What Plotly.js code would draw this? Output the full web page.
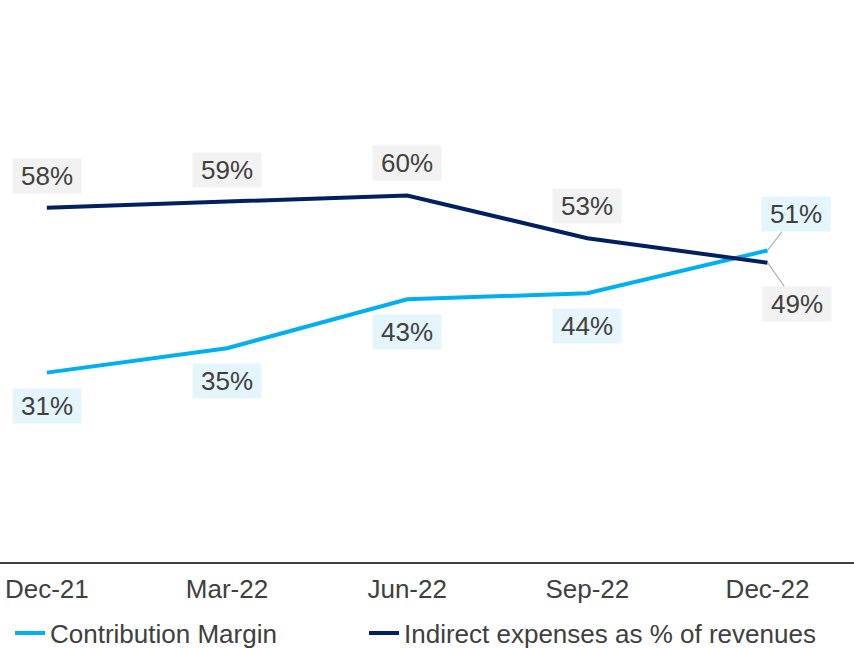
<!DOCTYPE html>
<html>
<head>
<meta charset="utf-8">
<script src="https://cdn.plot.ly/plotly-3.0.1.min.js"></script>
<style>
  body { margin: 0; background: #fff; }
  #graph { width: 854px; height: 648px; }
</style>
</head>
<body>
<div id="graph"></div>
<script>
var quarters = ["Dec-21", "Mar-22", "Jun-22", "Sep-22", "Dec-22"];
var contributionMargin = [31, 35, 43, 44, 51];
var indirectExpenses = [58, 59, 60, 53, 49];

var blue = "#00b0f0";
var navy = "#002060";
var textColor = "#404040";
var font = "Liberation Sans, Arial, sans-serif";

var trace1 = {
  x: quarters,
  y: contributionMargin,
  type: "scatter",
  mode: "lines",
  name: "Contribution Margin",
  legend: "legend",
  line: { color: blue, width: 4 }
};

var trace2 = {
  x: quarters,
  y: indirectExpenses,
  type: "scatter",
  mode: "lines",
  name: "Indirect expenses as % of revenues",
  legend: "legend2",
  line: { color: navy, width: 4 }
};

// data labels: navy above, blue below, last point gets a leader line
var annotations = [];
for (var i = 0; i < quarters.length; i++) {
  var last = (i == quarters.length - 1);
  annotations.push({
    x: quarters[i], y: indirectExpenses[i],
    text: indirectExpenses[i] + "%",
    showarrow: last, ax: 29, ay: 41, arrowhead: 0, arrowwidth: 1.2, arrowcolor: "#b0b0b0",
    yshift: last ? 0 : 32,
    width: 64, bgcolor: "#f2f2f2", borderpad: 2,
    font: { family: font, size: 26, color: textColor }
  });
  annotations.push({
    x: quarters[i], y: contributionMargin[i],
    text: contributionMargin[i] + "%",
    showarrow: last, ax: 28, ay: -36, arrowhead: 0, arrowwidth: 1.2, arrowcolor: "#b0b0b0",
    yshift: last ? 0 : -33,
    width: 64, bgcolor: "#e5f5fc", borderpad: 2,
    font: { family: font, size: 26, color: textColor }
  });
}

var legendFont = { family: font, size: 26, color: textColor };

var layout = {
  width: 854,
  height: 648,
  margin: { l: 0, r: 0, t: 0, b: 86 },
  paper_bgcolor: "#ffffff",
  plot_bgcolor: "#ffffff",
  font: { family: font, color: textColor },
  showlegend: true,
  legend: {
    orientation: "h",
    xref: "container", yref: "container",
    x: 10 / 854, xanchor: "left",
    y: 1 - 633 / 648, yanchor: "middle",
    font: legendFont
  },
  legend2: {
    orientation: "h",
    xref: "container", yref: "container",
    x: 364 / 854, xanchor: "left",
    y: 1 - 633 / 648, yanchor: "middle",
    font: legendFont
  },
  xaxis: {
    type: "category",
    range: [-0.26, 4.48],
    automargin: false,
    showgrid: false,
    zeroline: false,
    showline: true,
    linecolor: "#404040",
    linewidth: 2,
    ticks: "",
    ticklabelstandoff: 3,
    tickfont: { family: font, size: 26, color: textColor },
    fixedrange: true
  },
  yaxis: {
    range: [0, 92],
    visible: false,
    showgrid: false,
    zeroline: false,
    fixedrange: true
  },
  annotations: annotations
};

Plotly.newPlot("graph", [trace1, trace2], layout, { displayModeBar: false, staticPlot: true });
</script>
</body>
</html>
